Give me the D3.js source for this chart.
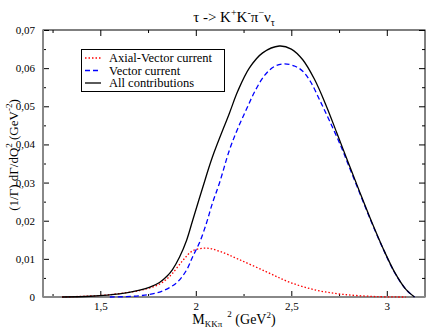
<!DOCTYPE html>
<html>
<head>
<style>
  body { margin: 0; background: #fff; }
</style>
<script src="https://d3js.org/d3.v7.min.js"></script>
</head>
<body>
<svg id="plot" width="426" height="334"></svg>
<script>
// values
const axialX = [1.30, 1.50, 1.60, 1.706, 1.76, 1.811, 1.85, 1.878, 1.931, 1.983, 2.056, 2.124, 2.228, 2.37, 2.49, 2.63, 2.77, 2.95, 3.10];
const axialY = [0, 0.0004, 0.0009, 0.0017, 0.0024, 0.0034, 0.0048, 0.0062, 0.0095, 0.0121, 0.0128, 0.0120, 0.0098, 0.0066, 0.0039, 0.0018, 0.0007, 0.0001, 0];

const vectorX = [1.55, 1.70, 1.811, 1.899, 1.952, 1.983, 2.019, 2.056, 2.087, 2.124, 2.176, 2.22, 2.265, 2.31, 2.36, 2.41, 2.463, 2.52, 2.56, 2.60, 2.65, 2.70, 2.76, 2.80, 2.86, 2.92, 2.98, 3.04, 3.10, 3.145];
const vectorY = [0, 0.0003, 0.0013, 0.0037, 0.0071, 0.0105, 0.0142, 0.0194, 0.0246, 0.0299, 0.0385, 0.0442, 0.0492, 0.0540, 0.0581, 0.0604, 0.0611, 0.0605, 0.0592, 0.0565, 0.0515, 0.0462, 0.0395, 0.0345, 0.0270, 0.0196, 0.0127, 0.0065, 0.0020, 0];

const totalX = [1.30, 1.45, 1.60, 1.706, 1.76, 1.81, 1.85, 1.878, 1.915, 1.952, 1.983, 2.035, 2.087, 2.176, 2.22, 2.28, 2.35, 2.437, 2.50, 2.56, 2.62, 2.68, 2.74, 2.80, 2.86, 2.92, 2.98, 3.04, 3.10, 3.145];
const totalY = [0, 0.0002, 0.0008, 0.0018, 0.0026, 0.0038, 0.0055, 0.0072, 0.0105, 0.0149, 0.0200, 0.0285, 0.0367, 0.0482, 0.0540, 0.0600, 0.0640, 0.0658, 0.0650, 0.0622, 0.0572, 0.0505, 0.0428, 0.0350, 0.0273, 0.0198, 0.0128, 0.0066, 0.0020, 0];

const xTicks = [1.5, 2, 2.5, 3];
const xMinor = [1.25, 1.75, 2.25, 2.75];
const yTicks = [0, 0.01, 0.02, 0.03, 0.04, 0.05, 0.06, 0.07];
const yMinor = [0.005, 0.015, 0.025, 0.035, 0.045, 0.055, 0.065];

const serif = "Liberation Serif";
const svg = d3.select("svg#plot").style("font-family", serif);
const margins = {"top": 30, "right": 1, "bottom": 37, "left": 43};
const width = 426 - margins.left - margins.right;
const height = 334 - margins.top - margins.bottom;

const xScale = d3.scaleLinear().domain([1.2, 3.2]).range([0, width]);
const yScale = d3.scaleLinear().domain([0, 0.07]).range([height, 0]);
const comma = d => String(d).replace(".", ",");

let chart = svg.append("g")
  .attr("transform", "translate(" + margins.left + "," + margins.top + ")");

// inward ticks on all four sides
function addAxis(axis, tr, labels) {
  let g = chart.append("g").attr("transform", tr).call(axis);
  g.attr("font-family", null).style("font-family", serif);
  g.select(".domain").remove();
  g.selectAll("line").attr("stroke", "#000");
  if (!labels) g.selectAll("text").remove();
  else g.selectAll("text").attr("font-size", 11).attr("fill", "#000");
  return g;
}
let b = addAxis(d3.axisBottom(xScale).tickValues(xTicks).tickSize(-6).tickFormat(comma), "translate(0," + height + ")", true);
b.selectAll("text").attr("y", 5);
addAxis(d3.axisBottom(xScale).tickValues(xMinor).tickSize(-3).tickFormat(""), "translate(0," + height + ")", false);
addAxis(d3.axisTop(xScale).tickValues(xTicks).tickSize(-6).tickFormat(""), "translate(0,0)", false);
addAxis(d3.axisTop(xScale).tickValues(xMinor).tickSize(-3).tickFormat(""), "translate(0,0)", false);
let l = addAxis(d3.axisLeft(yScale).tickValues(yTicks).tickSize(-6).tickFormat(comma), "translate(0,0)", true);
l.selectAll("text").attr("x", -8);
addAxis(d3.axisLeft(yScale).tickValues(yMinor).tickSize(-3).tickFormat(""), "translate(0,0)", false);
addAxis(d3.axisRight(yScale).tickValues(yTicks).tickSize(-6).tickFormat(""), "translate(" + width + ",0)", false);
addAxis(d3.axisRight(yScale).tickValues(yMinor).tickSize(-3).tickFormat(""), "translate(" + width + ",0)", false);

// frame
chart.append("rect").attr("x", 0).attr("y", 0).attr("width", width).attr("height", height)
  .attr("fill", "none").attr("stroke", "#000").attr("stroke-width", 1);
chart.append("line").attr("x1", 0).attr("x2", 0).attr("y1", 0).attr("y2", height)
  .attr("stroke", "#888").attr("stroke-width", 2);
chart.append("line").attr("x1", 0).attr("x2", width).attr("y1", height).attr("y2", height)
  .attr("stroke", "#888").attr("stroke-width", 2);

// curves
const line = d3.line().x(d => xScale(d[0])).y(d => yScale(d[1])).curve(d3.curveCatmullRom.alpha(0.5));
const series = [
  {x: axialX, y: axialY, color: "#ff0000", dash: "1.5,2"},
  {x: vectorX, y: vectorY, color: "#0000ff", dash: "5,3"},
  {x: totalX, y: totalY, color: "#000", dash: null}
];
series.forEach(s => {
  chart.append("path")
    .datum(s.x.map((v, i) => [v, s.y[i]]))
    .attr("d", line)
    .attr("fill", "none")
    .attr("stroke", s.color)
    .attr("stroke-width", 1.3)
    .attr("stroke-dasharray", s.dash);
});

// legend
const legendNames = ["Axial-Vector current", "Vector current", "All contributions"];
let legend = svg.append("g");
legend.append("rect").attr("x", 81.5).attr("y", 49.5).attr("width", 143).attr("height", 42)
  .attr("fill", "#fff").attr("stroke", "#000").attr("stroke-width", 1);
legendNames.forEach((n, i) => {
  let yy = 58 + i * 12.5;
  legend.append("line").attr("x1", 85).attr("x2", 101).attr("y1", yy).attr("y2", yy)
    .attr("stroke", series[i].color).attr("stroke-width", 1.3)
    .attr("stroke-dasharray", series[i].dash);
  legend.append("text").attr("x", 109).attr("y", yy + 4).attr("font-size", 12.5).text(n);
});

// title
let title = svg.append("text").attr("x", 234).attr("y", 22).attr("text-anchor", "middle").attr("font-size", 15);
title.append("tspan").text("τ -> K");
title.append("tspan").attr("font-size", 10).attr("dy", -6).text("+");
title.append("tspan").attr("dy", 6).text("K");
title.append("tspan").attr("font-size", 10).attr("dy", -6).text("-");
title.append("tspan").attr("dy", 6).text("π");
title.append("tspan").attr("font-size", 10).attr("dy", -6).text("−");
title.append("tspan").attr("dy", 6).text("ν");
title.append("tspan").attr("font-size", 10).attr("dy", 4).text("τ");

// x label
let xl = svg.append("text").attr("x", 234).attr("y", 324).attr("text-anchor", "middle").attr("font-size", 14);
xl.append("tspan").text("M");
xl.append("tspan").attr("font-size", 9).attr("dy", 3).text("KKπ");
xl.append("tspan").attr("font-size", 9).attr("dx", 5).attr("dy", -10).text("2");
xl.append("tspan").attr("dy", 7).text(" (GeV");
xl.append("tspan").attr("font-size", 9).attr("dy", -6).text("2");
xl.append("tspan").attr("dy", 6).text(")");

// y label
let yl = svg.append("text").attr("transform", "translate(18,155) rotate(-90)")
  .attr("text-anchor", "middle").attr("font-size", 13);
yl.append("tspan").text("(1/Γ) dΓ/dQ");
yl.append("tspan").attr("font-size", 9).attr("dy", -6).text("2");
yl.append("tspan").attr("dy", 6).text(" (GeV");
yl.append("tspan").attr("font-size", 9).attr("dy", -6).text("-2");
yl.append("tspan").attr("dy", 6).text(")");
</script>
</body>
</html>
